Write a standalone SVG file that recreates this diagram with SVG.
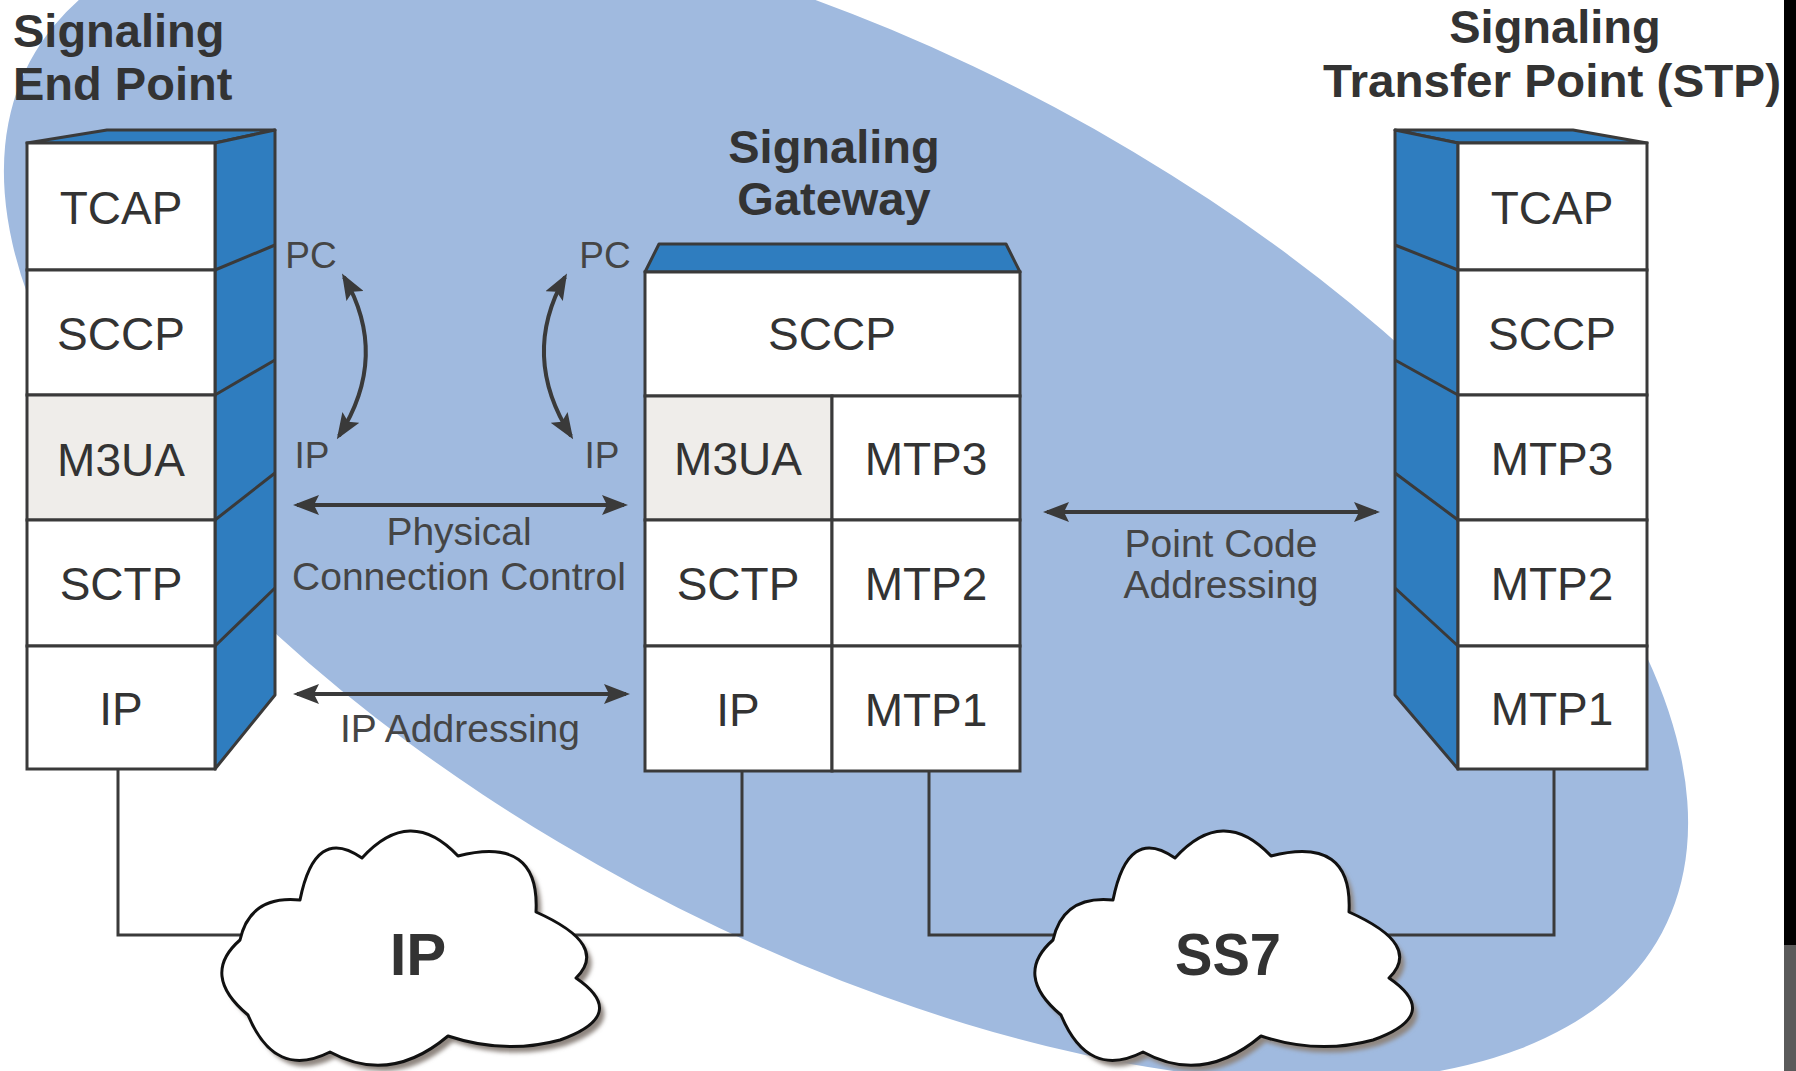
<svg xmlns="http://www.w3.org/2000/svg" width="1796" height="1071" viewBox="0 0 1796 1071">
<defs>
<style>
.side{fill:#2f7dbf;stroke:#3a3a3a;stroke-width:3;stroke-linejoin:round}
.cell{fill:#fff;stroke:#3a3a3a;stroke-width:3}
.cellg{fill:#efedea;stroke:#3a3a3a;stroke-width:3}
.edge{fill:none;stroke:#3a3a3a;stroke-width:3}
.ct{font-family:"Liberation Sans",Arial,sans-serif;font-size:46px;fill:#333;text-anchor:middle}
.title{font-family:"Liberation Sans",Arial,sans-serif;font-size:47px;font-weight:bold;fill:#333}
.lbl{font-family:"Liberation Sans",Arial,sans-serif;font-size:39px;fill:#454545;text-anchor:middle}
.pc{font-family:"Liberation Sans",Arial,sans-serif;font-size:37px;fill:#454545;text-anchor:middle}
.conn{fill:none;stroke:#3a3a3a;stroke-width:3}
.arr{fill:none;stroke:#3a3a3a;stroke-width:4}
.cloud{fill:#fff;stroke:#111;stroke-width:3;stroke-linejoin:round}
.cloudtxt{font-family:"Liberation Sans",Arial,sans-serif;font-size:60px;font-weight:bold;fill:#333;text-anchor:middle}
</style>
<marker id="ah" viewBox="0 0 26 20" refX="22" refY="10" markerWidth="26" markerHeight="20" markerUnits="userSpaceOnUse" orient="auto-start-reverse">
<path d="M0,0 L26,10 L0,20 L5,10 Z" fill="#3a3a3a"/>
</marker>
<filter id="blur" x="-10%" y="-10%" width="120%" height="120%"><feGaussianBlur stdDeviation="2"/></filter>
<path id="cloudShape" d="M240,940 Q250,895 300,900 Q315,825 362,858 Q410,805 458,856 Q540,835 536,912 Q610,945 576,978 Q630,1015 560,1040 Q505,1055 448,1036 Q390,1085 330,1052 Q275,1080 248,1015 Q200,975 240,940 Z"/>
</defs>

<rect x="0" y="0" width="1796" height="1071" fill="#fff"/>
<ellipse cx="846" cy="497" rx="925" ry="442" transform="rotate(28.1 846 497)" fill="#a0badf"/>
<rect x="1784" y="0" width="12" height="945" fill="#000"/>
<rect x="1784" y="945" width="12" height="126" fill="#5a5a5a"/>

<g id="network-links">
<path class="conn" d="M118,769 V935 H300"/>
<path class="conn" d="M742,771 V935 H540"/>
<path class="conn" d="M929,771 V935 H1100"/>
<path class="conn" d="M1554,769 V935 H1380"/>
</g>

<g id="ip-cloud">
<use href="#cloudShape" transform="translate(5,6)" fill="#8f8680" stroke="none" filter="url(#blur)"/>
<use href="#cloudShape" class="cloud"/>
<text class="cloudtxt" x="418" y="975">IP</text>
</g>

<g id="ss7-cloud">
<use href="#cloudShape" transform="translate(818,6)" fill="#8f8680" stroke="none" filter="url(#blur)"/>
<use href="#cloudShape" transform="translate(813,0)" class="cloud"/>
<text class="cloudtxt" x="1228" y="975" textLength="106" lengthAdjust="spacingAndGlyphs">SS7</text>
</g>

<g id="signaling-end-point">
<text class="title" x="13" y="47">Signaling</text>
<text class="title" x="13" y="100">End Point</text>
<polygon class="side" points="27,143 107,130 275,130 215,143"/>
<polygon class="side" points="215,143 275,130 275,695 215,769"/>
<path class="edge" d="M215,270 L275,245 M215,395 L275,360 M215,520 L275,473 M215,646 L275,588"/>
<rect class="cell" x="27" y="143" width="188" height="127"/>
<rect class="cell" x="27" y="270" width="188" height="125"/>
<rect class="cellg" x="27" y="395" width="188" height="125"/>
<rect class="cell" x="27" y="520" width="188" height="126"/>
<rect class="cell" x="27" y="646" width="188" height="123"/>
<text class="ct" x="121" y="224">TCAP</text>
<text class="ct" x="121" y="350">SCCP</text>
<text class="ct" x="121" y="476">M3UA</text>
<text class="ct" x="121" y="600">SCTP</text>
<text class="ct" x="121" y="725">IP</text>
</g>

<g id="signaling-gateway">
<text class="title" x="834" y="163" text-anchor="middle">Signaling</text>
<text class="title" x="834" y="215" text-anchor="middle">Gateway</text>
<polygon class="side" points="645,272 659,244 1006,244 1020,272"/>
<rect class="cell" x="645" y="272" width="375" height="124"/>
<rect class="cellg" x="645" y="396" width="187" height="124"/>
<rect class="cell" x="832" y="396" width="188" height="124"/>
<rect class="cell" x="645" y="520" width="187" height="126"/>
<rect class="cell" x="832" y="520" width="188" height="126"/>
<rect class="cell" x="645" y="646" width="187" height="125"/>
<rect class="cell" x="832" y="646" width="188" height="125"/>
<text class="ct" x="832" y="350">SCCP</text>
<text class="ct" x="738" y="475">M3UA</text>
<text class="ct" x="926" y="475">MTP3</text>
<text class="ct" x="738" y="600">SCTP</text>
<text class="ct" x="926" y="600">MTP2</text>
<text class="ct" x="738" y="726">IP</text>
<text class="ct" x="926" y="726">MTP1</text>
</g>

<g id="signaling-transfer-point">
<text class="title" x="1555" y="43" text-anchor="middle">Signaling</text>
<text class="title" x="1323" y="97" textLength="458" lengthAdjust="spacingAndGlyphs">Transfer Point (STP)</text>
<polygon class="side" points="1458,143 1395,130 1573,130 1647,143"/>
<polygon class="side" points="1458,143 1395,130 1395,695 1458,769"/>
<path class="edge" d="M1458,270 L1395,245 M1458,395 L1395,360 M1458,520 L1395,473 M1458,646 L1395,588"/>
<rect class="cell" x="1458" y="143" width="189" height="127"/>
<rect class="cell" x="1458" y="270" width="189" height="125"/>
<rect class="cell" x="1458" y="395" width="189" height="125"/>
<rect class="cell" x="1458" y="520" width="189" height="126"/>
<rect class="cell" x="1458" y="646" width="189" height="123"/>
<text class="ct" x="1552" y="224">TCAP</text>
<text class="ct" x="1552" y="350">SCCP</text>
<text class="ct" x="1552" y="475">MTP3</text>
<text class="ct" x="1552" y="600">MTP2</text>
<text class="ct" x="1552" y="725">MTP1</text>
</g>

<g id="connectors">
<path class="arr" d="M344,277 Q390,356 339,436" marker-start="url(#ah)" marker-end="url(#ah)"/>
<path class="arr" d="M565,277 Q520,356 571,436" marker-start="url(#ah)" marker-end="url(#ah)"/>
<path class="arr" d="M297,505 H624" marker-start="url(#ah)" marker-end="url(#ah)"/>
<path class="arr" d="M297,694 H626" marker-start="url(#ah)" marker-end="url(#ah)"/>
<path class="arr" d="M1047,512 H1376" marker-start="url(#ah)" marker-end="url(#ah)"/>
<text class="pc" x="311" y="268">PC</text>
<text class="pc" x="312" y="468">IP</text>
<text class="pc" x="605" y="268">PC</text>
<text class="pc" x="602" y="468">IP</text>
<text class="lbl" x="459" y="545">Physical</text>
<text class="lbl" x="459" y="590">Connection Control</text>
<text class="lbl" x="460" y="742">IP Addressing</text>
<text class="lbl" x="1221" y="557">Point Code</text>
<text class="lbl" x="1221" y="598">Addressing</text>
</g>
</svg>
